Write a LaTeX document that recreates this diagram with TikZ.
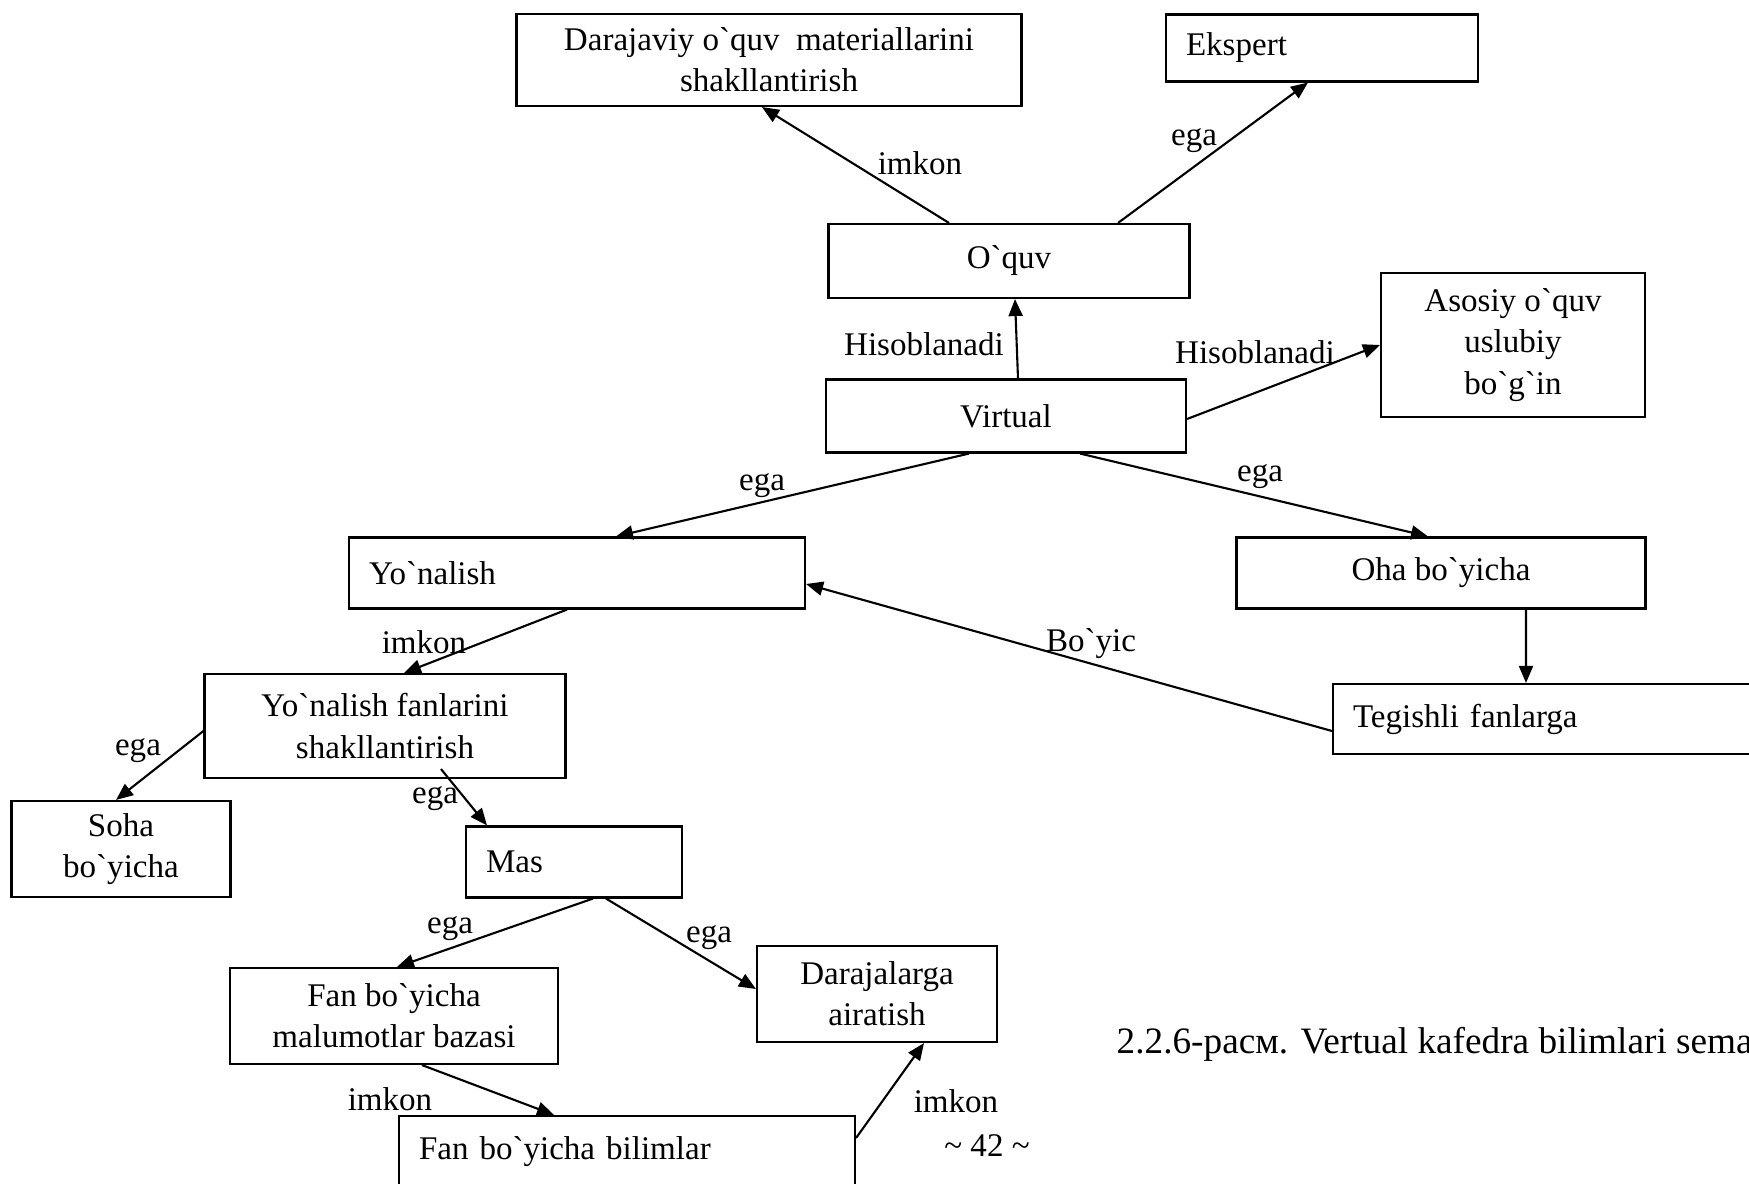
\documentclass[tikz,border=0pt]{standalone}
\usepackage{fontspec}
\newfontfamily\uzfont{Liberation Serif}
\usetikzlibrary{arrows.meta}

\begin{document}
\begin{tikzpicture}[
    font=\uzfont\fontsize{9.4}{11.7}\selectfont,
    box/.style={rectangle, draw=black, line width=0.6pt, inner sep=0pt},
    lbox/.style={box, align=left, inner xsep=0.2cm},
    cbox/.style={box, align=center},
    arr/.style={-{Triangle[length=1.7mm, width=1.4mm]}, line width=0.6pt},
    lab/.style={inner sep=0pt}
]
\path[use as bounding box, clip] (0,0) rectangle (17.49,-11.84);

% boxes
\node[cbox, minimum width=5.05cm, minimum height=0.92cm] (dar) at (7.69,-0.60)
    {Darajaviy o`quv\ \ materiallarini\\shakllantirish};
\node[lbox, text width=2.72cm, minimum height=0.67cm] (eks) at (13.22,-0.48) {Ekspert};
\node[cbox, minimum width=3.61cm, minimum height=0.74cm] (oquv) at (10.09,-2.61) {O`quv};
\node[cbox, minimum width=2.64cm, minimum height=1.44cm] (asos) at (15.13,-3.45)
    {Asosiy o`quv\\uslubiy\\bo`g`in};
\node[cbox, minimum width=3.60cm, minimum height=0.73cm] (virt) at (10.06,-4.16) {Virtual};
\node[lbox, text width=4.16cm, minimum height=0.71cm] (yon) at (5.77,-5.73) {Yo`nalish};
\node[cbox, minimum width=4.09cm, minimum height=0.71cm] (oha) at (14.41,-5.73) {Oha bo`yicha};
\node[cbox, minimum width=3.61cm, minimum height=1.04cm] (yfs) at (3.85,-7.26)
    {Yo`nalish fanlarini\\shakllantirish};
\node[lbox, text width=4.16cm, minimum height=0.70cm] (teg) at (15.61,-7.19) {Tegishli fanlarga};
\node[cbox, minimum width=2.19cm, minimum height=0.96cm] (soha) at (1.21,-8.49) {Soha\\bo`yicha};
\node[lbox, text width=1.76cm, minimum height=0.71cm] (mas) at (5.74,-8.62) {Mas};
\node[cbox, minimum width=3.28cm, minimum height=0.96cm] (fbmb) at (3.94,-10.16)
    {Fan bo`yicha\\malumotlar bazasi};
\node[cbox, minimum width=2.40cm, minimum height=0.96cm] (daraj) at (8.77,-9.94)
    {Darajalarga\\airatish};
\node[lbox, text width=4.16cm, minimum height=0.72cm] (fbb) at (6.27,-11.52) {Fan bo`yicha bilimlar};

% labels
\node[lab] (l1) at (9.20,-1.63) {imkon};
\node[lab] (l2) at (11.94,-1.41) {ega};
\node[lab] (l3) at (9.24,-3.44) {Hisoblanadi};
\node[lab] (l4) at (12.55,-3.52) {Hisoblanadi};
\node[lab] (l5) at (7.62,-4.86) {ega};
\node[lab] (l6) at (12.60,-4.77) {ega};
\node[lab] (l7) at (10.91,-6.44) {Bo`yic};
\node[lab] (l8) at (4.24,-6.42) {imkon};
\node[lab] (l9) at (1.38,-7.51) {ega};
\node[lab] (l10) at (4.35,-7.99) {ega};
\node[lab] (l11) at (4.50,-9.29) {ega};
\node[lab] (l12) at (7.09,-9.38) {ega};
\node[lab] (l13) at (3.90,-10.99) {imkon};
\node[lab] (l14) at (9.56,-11.01) {imkon};
\node[lab] (page) at (9.87,-11.46) {\textasciitilde{} 42 \textasciitilde};
\node[lab, anchor=west, font=\uzfont\fontsize{10.6}{12.7}\selectfont] (cap) at (11.16,-10.44)
    {2.2.6-расм. Vertual kafedra bilimlari sema};

% arrows
\draw[arr] ([xshift=-0.60cm]oquv.north) -- ([xshift=-0.07cm]dar.south);
\draw[arr] ([xshift=1.09cm]oquv.north) -- ([xshift=-0.14cm]eks.south);
\draw[arr] ([xshift=0.12cm]virt.north) -- ([xshift=0.06cm]oquv.south);
\draw[arr] ([yshift=-0.03cm]virt.east) -- (asos.west);
\draw[arr] ([xshift=-0.37cm]virt.south) -- ([xshift=0.39cm]yon.north);
\draw[arr] ([xshift=0.74cm]virt.south) -- ([xshift=-0.13cm]oha.north);
\draw[arr] ([xshift=0.85cm]oha.south) -- ([xshift=-0.35cm]teg.north);
\draw[arr] ([yshift=-0.12cm]teg.west) -- ([yshift=-0.11cm]yon.east);
\draw[arr] ([xshift=-0.10cm]yon.south) -- ([xshift=0.19cm]yfs.north);
\draw[arr] ([yshift=-0.05cm]yfs.west) -- ([xshift=-0.05cm]soha.north);
\draw[arr] ([xshift=0.56cm,yshift=0.10cm]yfs.south) -- ([xshift=-0.87cm]mas.north);
\draw[arr] ([xshift=0.19cm]mas.south) -- ([xshift=0.03cm]fbmb.north);
\draw[arr] ([xshift=0.32cm]mas.south) -- ([yshift=0.05cm]daraj.west);
\draw[arr] ([xshift=0.28cm]fbmb.south) -- ([xshift=-0.73cm]fbb.north);
\draw[arr] ([yshift=0.14cm]fbb.east) -- ([xshift=0.47cm]daraj.south);
\end{tikzpicture}
\end{document}
